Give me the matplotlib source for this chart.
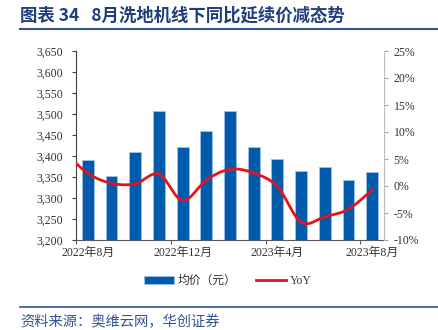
import numpy as np
import matplotlib
matplotlib.use("Agg")
import matplotlib.pyplot as plt
from matplotlib.lines import Line2D
from matplotlib.ticker import FuncFormatter, FixedLocator

plt.rcParams['font.family'] = ['Liberation Serif', 'Noto Sans CJK SC']
plt.rcParams['axes.unicode_minus'] = False

months = ['2022年8月', '2022年9月', '2022年10月', '2022年11月', '2022年12月',
          '2023年1月', '2023年2月', '2023年3月', '2023年4月', '2023年5月',
          '2023年6月', '2023年7月', '2023年8月']
avg_price = [3390, 3353, 3410, 3506, 3422, 3460, 3506, 3421, 3394, 3365, 3374, 3343, 3362]
# YoY (%) from 2022年7月 on; the first month sits just left of the plot area
yoy = [6.4, 2.35, 0.5, 0.4, 2.2, -2.7, 1.1, 3.1, 2.4, -0.1, -6.7, -5.7, -4.3, -0.7]
shown_labels = ['2022年8月', '2022年12月', '2023年4月', '2023年8月']

BAR = '#005BAC'
RED = '#E3141F'
NAVY = '#1F3F7A'
TXT = '#333333'


def smooth_curve(xs, ys, n=30):
    # Bezier smoothing through every point (Catmull-Rom style tangents)
    pts = np.column_stack([xs, ys]).astype(float)
    segs = []
    for i in range(len(pts) - 1):
        p0 = pts[i - 1] if i > 0 else pts[i]
        p1, p2 = pts[i], pts[i + 1]
        p3 = pts[i + 2] if i + 2 < len(pts) else pts[i + 1]
        c1 = p1 + (p2 - p0) / 6
        c2 = p2 - (p3 - p1) / 6
        t = np.linspace(0, 1, n)[:, None]
        segs.append((1 - t) ** 3 * p1 + 3 * (1 - t) ** 2 * t * c1
                    + 3 * (1 - t) * t ** 2 * c2 + t ** 3 * p2)
    return np.vstack(segs)


fig = plt.figure(figsize=(4.38, 3.30), dpi=100)
ax = fig.add_axes([76 / 438, 1 - 240 / 330, 308 / 438, 189 / 330])
ax2 = ax.twinx()

x = np.arange(len(months))
ax.bar(x, avg_price, width=0.5, color=BAR, edgecolor='#9DC3E6', linewidth=0.6,
       label='均价（元）', zorder=2)
ax.set_xlim(-0.5, len(months) - 0.5)
ax.set_ylim(3200, 3650)
ax.set_yticks(np.arange(3200, 3651, 50))
ax.yaxis.set_major_formatter(FuncFormatter(lambda v, p: f'{v:,.0f}'))

yoy_x = np.arange(-1, len(months))
curve = smooth_curve(yoy_x, yoy)
ax2.plot(curve[:, 0], curve[:, 1], color=RED, lw=2.0, label='YoY', zorder=3)
ax2.set_ylim(-10, 25)
ax2.set_yticks(np.arange(-10, 26, 5))
ax2.yaxis.set_major_formatter(FuncFormatter(lambda v, p: f'{v:.0f}%'))
ax2.set_xlim(-0.5, len(months) - 0.5)

# category axis: tick marks on boundaries, labels under every 4th month
ax.xaxis.set_major_locator(FixedLocator([-0.5, 3.5, 7.5, 11.5]))
ax.set_xticklabels([])
label_pos = [months.index(m) for m in shown_labels]
ax.xaxis.set_minor_locator(FixedLocator(label_pos))
ax.set_xticklabels(shown_labels, minor=True)
ax.tick_params(axis='x', which='major', length=3, width=0.8, color='#595959')
ax.tick_params(axis='x', which='minor', length=0, pad=5, labelsize=8.5, labelcolor=TXT)

ax.tick_params(axis='y', length=3, width=0.8, color='#404040', labelsize=8.5,
               labelcolor=TXT, pad=6)
ax2.tick_params(axis='y', length=3, width=0.8, color='#A6A6A6', labelsize=8.5,
                labelcolor=TXT, pad=4)

for a in (ax, ax2):
    a.spines['top'].set_visible(False)
ax.spines['left'].set_color('#404040')
ax.spines['bottom'].set_color('#595959')
ax2.spines['left'].set_visible(False)
ax2.spines['bottom'].set_visible(False)
ax2.spines['right'].set_color('#BFBFBF')
ax.spines['right'].set_visible(False)

h1, l1 = ax.get_legend_handles_labels()
h2, l2 = ax2.get_legend_handles_labels()
fig.legend(h1 + h2, l1 + l2, loc='center', bbox_to_anchor=(0.52, 1 - 281 / 330),
           ncol=2, frameon=False, fontsize=8.5, handlelength=2.6, handleheight=0.6,
           columnspacing=1.6, handletextpad=0.3, labelcolor=TXT)

fig.text(20 / 438, 1 - 15 / 330, '图表 34   8月洗地机线下同比延续价减态势',
         fontsize=12.5, fontweight='bold', color=NAVY, va='center', ha='left',
         family=['Noto Sans CJK SC'])
fig.add_artist(Line2D([20 / 438, 1], [1 - 29 / 330] * 2, transform=fig.transFigure,
                      color='#2F5597', lw=1.5))
fig.add_artist(Line2D([20 / 438, 1], [1 - 307 / 330] * 2, transform=fig.transFigure,
                      color='#2F5597', lw=1.2))
fig.text(20 / 438, 1 - 322 / 330, '资料来源：奥维云网，华创证券', fontsize=10.3,
         style='italic', color='#2F5597', va='center', ha='left',
         family=['Noto Sans CJK SC'])

fig.savefig('out.png', dpi=100)
